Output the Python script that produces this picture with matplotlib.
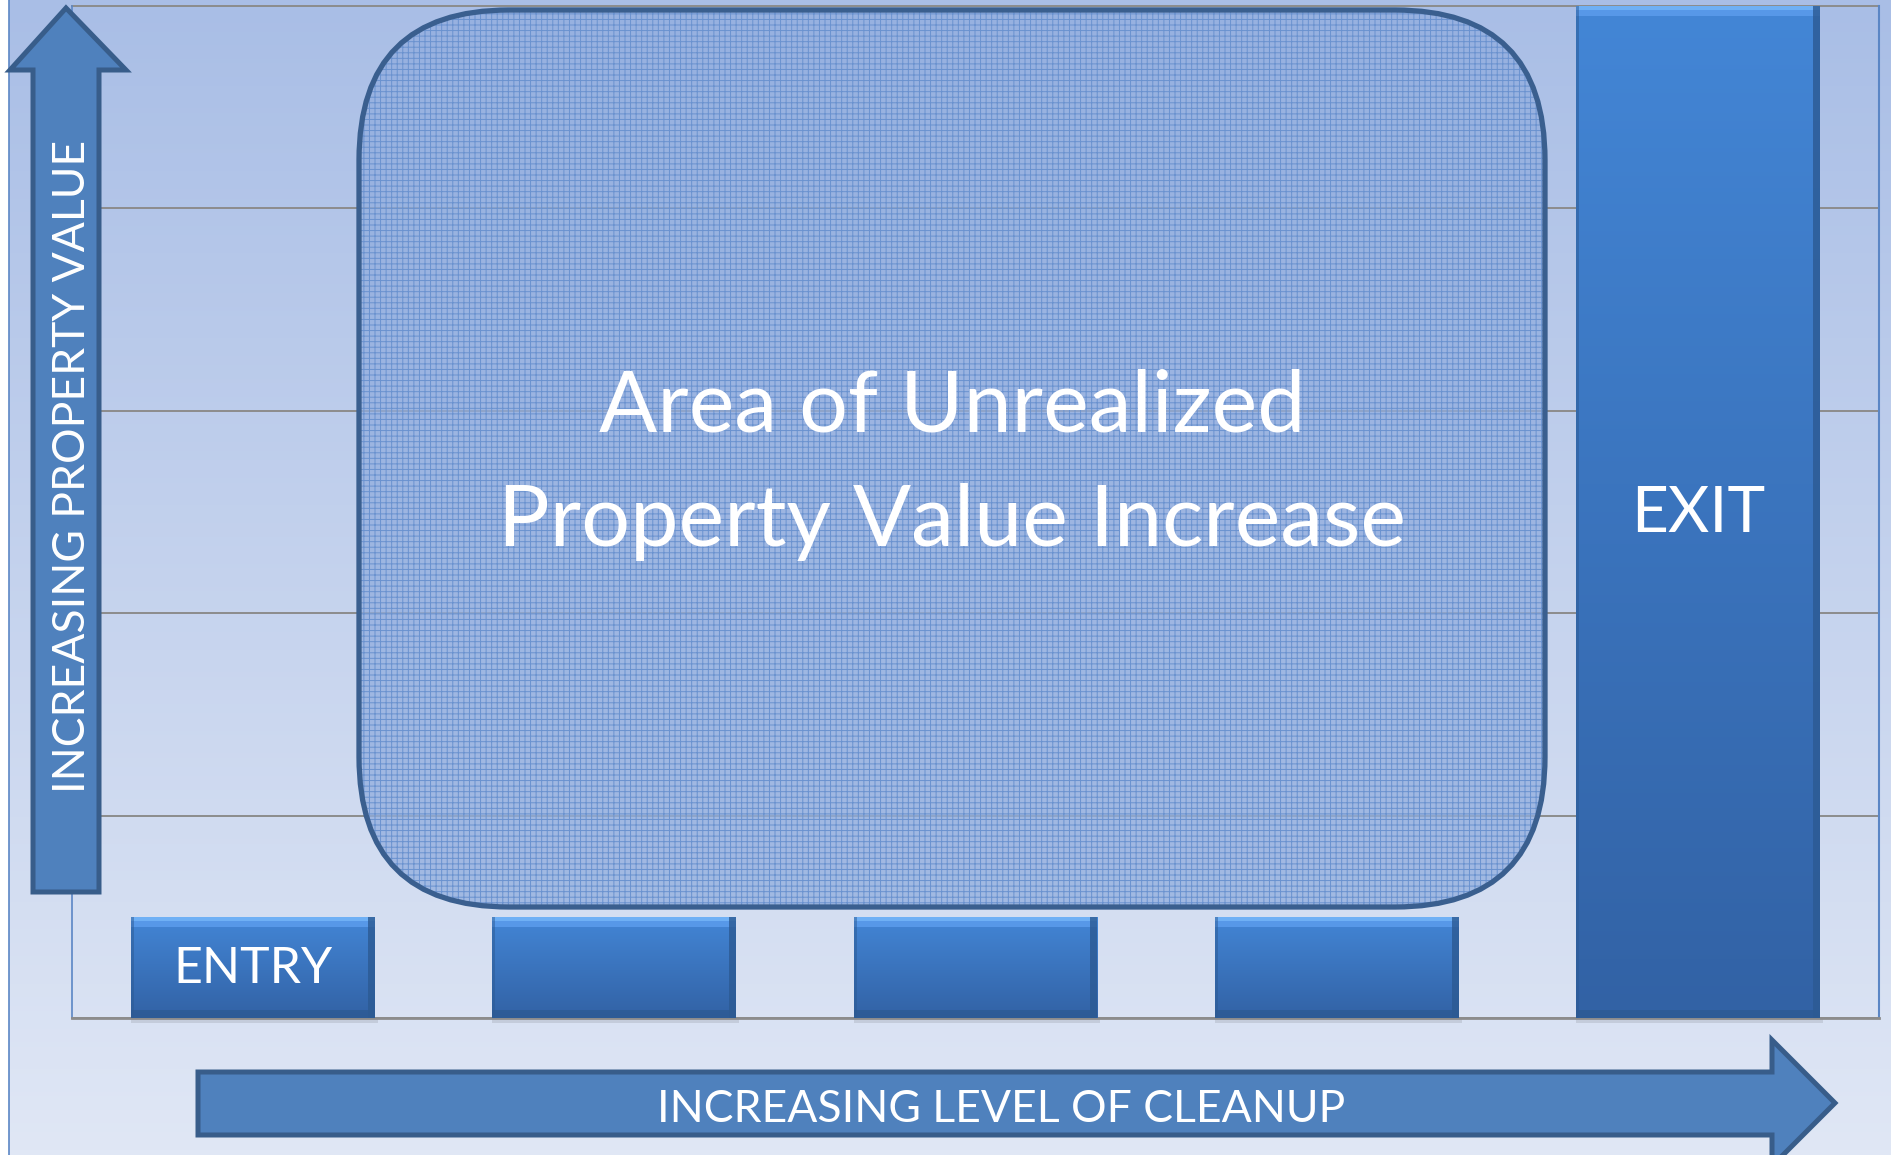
import numpy as np
import matplotlib
matplotlib.use("Agg")
import matplotlib.pyplot as plt
from matplotlib.patches import Rectangle, Polygon, FancyBboxPatch
from matplotlib.colors import LinearSegmentedColormap

# chart data
stages = ["ENTRY", "STEP 2", "STEP 3", "STEP 4", "EXIT"]
bar_labels = ["ENTRY", "", "", "", "EXIT"]
values = [0.5, 0.5, 0.5, 0.5, 5.0]
grid_levels = [0, 1, 2, 3, 4, 5]

y_label = "INCREASING PROPERTY VALUE"
x_label = "INCREASING LEVEL OF CLEANUP"
area_label = "Area of Unrealized\nProperty Value Increase"

W, H = 1891, 1155
FONT = "Lato"
ARROW_FILL = "#4f81bd"
ARROW_EDGE = "#385d8a"

fig = plt.figure(figsize=(W / 100, H / 100), dpi=100)

# background gradient, pixel coordinates
bg = fig.add_axes([0, 0, 1, 1], zorder=0)
bg.axis("off")
bg_cmap = LinearSegmentedColormap.from_list("bg", ["#a9bee6", "#e0e7f5"])
bg.imshow(np.linspace(0, 1, 256).reshape(-1, 1), cmap=bg_cmap, aspect="auto",
          extent=[8, W, H, 0], origin="upper")
bg.add_patch(Rectangle((0, 0), 8, H, color="white"))
bg.plot([8.5, 8.5], [0, H], color="#5b86c5", lw=1.2)
bg.set_xlim(0, W)
bg.set_ylim(H, 0)

# main chart
left, right, top, bottom = 72, 1879, 6, 1018
ax = fig.add_axes([left / W, 1 - bottom / H, (right - left) / W, (bottom - top) / H], zorder=2)
ax.set_facecolor("none")

x = np.arange(len(stages))
bars = ax.bar(x, values, width=0.675, color="none", edgecolor="none", zorder=3)

px_x = 5.0 / (right - left)
px_y = 5.0 / (bottom - top)
bar_cmap = LinearSegmentedColormap.from_list("bar", ["#3262a5", "#4386d6"])
grad = np.linspace(0, 1, 256).reshape(-1, 1)
for b, lab in zip(bars, bar_labels):
    x0, w, h = b.get_x(), b.get_width(), b.get_height()
    # soft shadow under the bar
    ax.add_patch(Rectangle((x0, -5 * px_y), w + 3 * px_x, 5 * px_y,
                           color="#7a7f88", alpha=0.22, lw=0, zorder=2, clip_on=False))
    im = ax.imshow(grad, extent=[x0, x0 + w, 0, h], origin="lower", cmap=bar_cmap,
                   aspect="auto", zorder=3)
    im.set_clip_path(b)
    # bevel
    ax.add_patch(Rectangle((x0, h - 10 * px_y), w, 10 * px_y, color="#5798e8", lw=0, zorder=4))
    ax.add_patch(Rectangle((x0, h - 4 * px_y), w, 4 * px_y, color="#6fb0f5", lw=0, zorder=4))
    ax.add_patch(Rectangle((x0 + w - 7 * px_x, 0), 7 * px_x, h, color="#2c5a93", alpha=0.8, lw=0, zorder=4))
    ax.add_patch(Rectangle((x0, 0), w, 8 * px_y, color="#2c5a93", alpha=0.8, lw=0, zorder=4))
    ax.add_patch(Rectangle((x0, 0), 3 * px_x, h, color="#2c5a93", alpha=0.5, lw=0, zorder=4))
    if lab:
        fs = 36 if h < 1 else 46
        ax.text(x0 + w / 2, h / 2 - 2 * px_y, lab, ha="center", va="center", color="white",
                fontsize=fs, family=FONT, zorder=5)

ax.set_xlim(-0.5, len(stages) - 0.5)
ax.set_ylim(grid_levels[0], grid_levels[-1])
ax.set_yticks(grid_levels)
ax.set_xticks([])
ax.yaxis.grid(True, color="#8c8c8c", lw=1.4, zorder=1)
for gl in ax.get_ygridlines():
    gl.set_clip_on(False)
ax.set_axisbelow(True)
ax.tick_params(left=False, labelleft=False)
ax.spines["top"].set_visible(False)
ax.spines["left"].set_color("#5b86c5")
ax.spines["right"].set_color("#5b86c5")
ax.spines["left"].set_linewidth(1.2)
ax.spines["right"].set_linewidth(1.5)
ax.spines["bottom"].set_color("#8c8c8c")
ax.spines["bottom"].set_linewidth(2)

# overlay shapes, pixel coordinates
ov = fig.add_axes([0, 0, 1, 1], zorder=5)
ov.set_facecolor("none")
ov.set_xlim(0, W)
ov.set_ylim(H, 0)
ov.axis("off")

plt.rcParams["hatch.linewidth"] = 0.7
rx0, ry0, rx1, ry1 = 359, 10, 1545, 907
ov.add_patch(FancyBboxPatch((rx0, ry0), rx1 - rx0, ry1 - ry0,
                            boxstyle="round,pad=0,rounding_size=150",
                            facecolor=(0.57, 0.68, 0.87, 0.75), edgecolor="#6a92cf",
                            hatch="+++", lw=0))
ov.add_patch(FancyBboxPatch((rx0, ry0), rx1 - rx0, ry1 - ry0,
                            boxstyle="round,pad=0,rounding_size=150",
                            facecolor="none", edgecolor="#3a5f8f", lw=3.8))
ov.text(952, 465, area_label, ha="center", va="center", multialignment="center",
        color="white", fontsize=62, family=FONT, linespacing=1.58)

# vertical arrow
up = [(66, 8), (126, 70), (99, 70), (99, 892), (33, 892), (33, 70), (10, 70)]
ov.add_patch(Polygon(up, closed=True, facecolor=ARROW_FILL, edgecolor=ARROW_EDGE, lw=3.6))
ov.text(73, 466, y_label, rotation=90, ha="center", va="center", color="white",
        fontsize=32, family=FONT)

# horizontal arrow
rt = [(198, 1072), (1772, 1072), (1772, 1040), (1835, 1103), (1772, 1166),
      (1772, 1135), (198, 1135)]
ov.add_patch(Polygon(rt, closed=True, facecolor=ARROW_FILL, edgecolor=ARROW_EDGE, lw=3.6))
ov.text(1001, 1109, x_label, ha="center", va="center", color="white",
        fontsize=32, family=FONT)

fig.savefig("out.png", dpi=100)
